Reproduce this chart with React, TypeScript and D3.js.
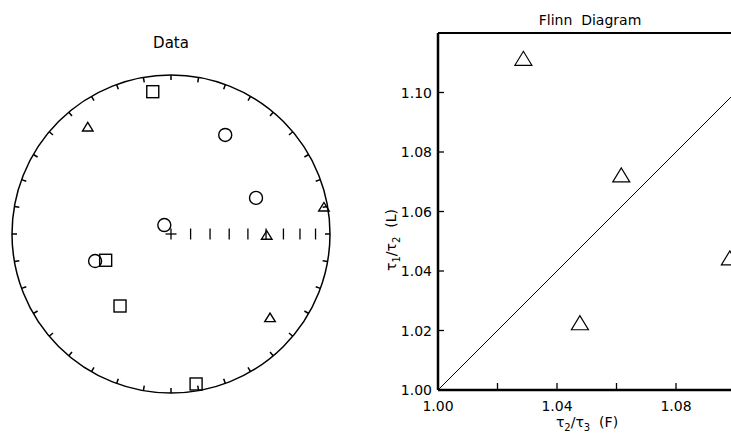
import * as d3 from 'd3';

// AMS principal axes for the stereonet (declination / inclination, degrees)
const maxDec = [352.7, 248.1, 215.3, 170.5];
const maxInc = [10.7, 53.5, 43.8, 4.9];
const intDec = [322.2, 79.9, 90.6, 130.1];
const intInc = [15.7, 2.6, 39.6, 19.7];
const minDec = [28.7, 67.0, 323.3, 250.4];
const minInc = [29.7, 41.5, 84.3, 48.0];

// Flinn diagram: F = t2/t3, L = t1/t2
const flinnF = [1.0287, 1.0616, 1.0477, 1.0981];
const flinnL = [1.1115, 1.0723, 1.0226, 1.0444];

const xTicks = [1.0, 1.02, 1.04, 1.06, 1.08, 1.1];
const xTickLabels = ['1.00', '', '1.04', '', '1.08', ''];
const yTicks = [1.0, 1.02, 1.04, 1.06, 1.08, 1.1];
const yTickLabels = ['1.00', '1.02', '1.04', '1.06', '1.08', '1.10'];
const scaleIncs = [80, 70, 60, 50, 40, 30, 20, 10];

const FONT = '"DejaVu Sans", sans-serif';

const App = () => {
  // stereonet geometry
  const cx = 171;
  const cy = 234;
  const R = 159;
  const rScale = d3.scaleLinear().domain([0, 1]).range([0, R]);
  const eqArea = (inc: number) => Math.SQRT2 * Math.sin(((90 - inc) / 2) * (Math.PI / 180));
  const project = (dec: number, inc: number) => {
    const r = rScale(eqArea(inc));
    const a = (dec * Math.PI) / 180;
    return [cx + r * Math.sin(a), cy - r * Math.cos(a)];
  };

  // flinn geometry
  const x = d3.scaleLinear().domain([1.0, 1.12]).range([438, 795]);
  const y = d3.scaleLinear().domain([1.0, 1.12]).range([390, 33]);

  const tri = (px: number, py: number, w: number, h: number) =>
    `M${px - w / 2},${py + h / 2}L${px + w / 2},${py + h / 2}L${px},${py - h / 2}Z`;

  const line = d3.line<number>().x((d) => x(d)).y((d) => y(d));

  return (
    <svg
      width={731}
      height={437}
      style={{ position: 'absolute', left: 0, top: 0, background: '#fff' }}
      fontFamily={FONT}
    >
      {/* ---------- stereonet ---------- */}
      <text x={cx} y={48} textAnchor="middle" fontSize={15}>Data</text>
      <circle cx={cx} cy={cy} r={R} fill="none" stroke="#000" strokeWidth={1.5} />
      {d3.range(0, 360, 10).map((a) => {
        const t = (a * Math.PI) / 180;
        return (
          <line
            key={a}
            x1={cx + R * Math.sin(t)}
            y1={cy - R * Math.cos(t)}
            x2={cx + (R - 5) * Math.sin(t)}
            y2={cy - (R - 5) * Math.cos(t)}
            stroke="#000"
            strokeWidth={1.5}
          />
        );
      })}
      <line x1={cx - 5.5} x2={cx + 5.5} y1={cy} y2={cy} stroke="#000" strokeWidth={1.3} />
      <line x1={cx} x2={cx} y1={cy - 5.5} y2={cy + 5.5} stroke="#000" strokeWidth={1.3} />
      {scaleIncs.map((inc) => {
        const px = cx + rScale(eqArea(inc));
        return <line key={inc} x1={px} x2={px} y1={cy - 5.5} y2={cy + 5.5} stroke="#000" strokeWidth={1.3} />;
      })}
      {maxDec.map((d, i) => {
        const [px, py] = project(d, maxInc[i]);
        return <rect key={'mx' + i} x={px - 6} y={py - 6} width={12} height={12} fill="none" stroke="#000" strokeWidth={1.4} />;
      })}
      {intDec.map((d, i) => {
        const [px, py] = project(d, intInc[i]);
        return <path key={'in' + i} d={tri(px, py, 10.5, 8.5)} fill="none" stroke="#000" strokeWidth={1.4} />;
      })}
      {minDec.map((d, i) => {
        const [px, py] = project(d, minInc[i]);
        return <circle key={'mn' + i} cx={px} cy={py} r={6.5} fill="none" stroke="#000" strokeWidth={1.4} />;
      })}

      {/* ---------- flinn diagram ---------- */}
      <text x={590} y={25} textAnchor="middle" fontSize={14} style={{ whiteSpace: 'pre' }}>
        Flinn  Diagram
      </text>
      <path d={line([1.0, 1.12]) ?? ''} fill="none" stroke="#000" strokeWidth={1} />
      <line x1={x(1.0)} x2={x(1.12)} y1={y(1.12)} y2={y(1.12)} stroke="#000" strokeWidth={2} />
      <line x1={x(1.0)} x2={x(1.0)} y1={y(1.0)} y2={y(1.12)} stroke="#000" strokeWidth={2.5} />
      <line x1={x(1.0)} x2={x(1.12)} y1={y(1.0)} y2={y(1.0)} stroke="#000" strokeWidth={2.5} />
      {xTicks.map((t, i) => (
        <g key={'xt' + i}>
          <line x1={x(t)} x2={x(t)} y1={y(1.0)} y2={y(1.0) - 7} stroke="#000" strokeWidth={1.3} />
          <text x={x(t)} y={411} textAnchor="middle" fontSize={14}>{xTickLabels[i]}</text>
        </g>
      ))}
      {yTicks.map((t, i) => (
        <g key={'yt' + i}>
          <line x1={x(1.0)} x2={x(1.0) + 6} y1={y(t)} y2={y(t)} stroke="#000" strokeWidth={1.3} />
          <text x={432} y={y(t)} dy="0.36em" textAnchor="end" fontSize={14}>{yTickLabels[i]}</text>
        </g>
      ))}
      <text x={587} y={427} textAnchor="middle" fontSize={14} style={{ whiteSpace: 'pre' }}>
        τ<tspan dy={4} fontSize={10}>2</tspan>
        <tspan dy={-4}>/τ</tspan>
        <tspan dy={4} fontSize={10}>3</tspan>
        <tspan dy={-4}>  (F)</tspan>
      </text>
      <text
        transform="translate(396,240) rotate(-90)"
        textAnchor="middle"
        fontSize={14}
        style={{ whiteSpace: 'pre' }}
      >
        τ<tspan dy={4} fontSize={10}>1</tspan>
        <tspan dy={-4}>/τ</tspan>
        <tspan dy={4} fontSize={10}>2</tspan>
        <tspan dy={-4}>  (L)</tspan>
      </text>
      {flinnF.map((f, i) => (
        <path key={'fl' + i} d={tri(x(f), y(flinnL[i]), 17, 14)} fill="none" stroke="#000" strokeWidth={1.2} />
      ))}
    </svg>
  );
};

export default App;
